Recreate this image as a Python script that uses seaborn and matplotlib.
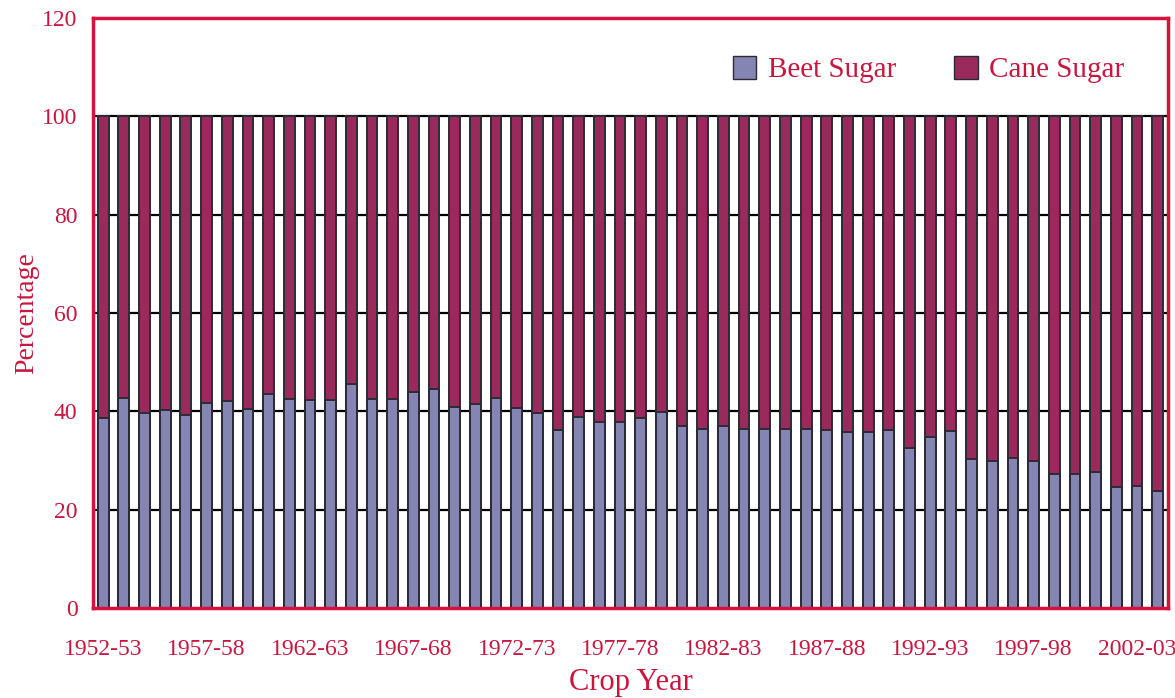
import matplotlib
matplotlib.use("Agg")
import matplotlib.pyplot as plt
import matplotlib.patches as mpatches
import seaborn as sns
import pandas as pd

# Crop years 1952-53 .. 2003-04
crop_years = [f"{y}-{str(y + 1)[-2:]}" for y in range(1952, 2004)]

# Beet sugar share of total (percent)
beet_share = [
    38.7, 42.7, 39.6, 40.3, 39.2, 41.6, 42.2, 40.5, 43.6, 42.6,
    42.3, 42.3, 45.6, 42.6, 42.6, 43.9, 44.5, 40.8, 41.4, 42.7,
    40.6, 39.7, 36.2, 38.8, 37.8, 37.8, 38.7, 39.8, 37.0, 36.5,
    37.0, 36.5, 36.5, 36.5, 36.5, 36.3, 35.8, 35.8, 36.3, 32.5,
    34.7, 36.1, 30.4, 29.9, 30.6, 30.0, 27.3, 27.3, 27.6, 24.6,
    24.9, 23.7,
]
total_share = [100] * len(crop_years)

BEET = "#8585b3"
CANE = "#9a2a5c"
RED = "#d8103e"
TXT = "#c8163f"
EDGE = "#2b2b35"

df = pd.DataFrame({"year": crop_years, "beet": beet_share, "total": total_share})

sns.set_style("white")
plt.rcParams["font.family"] = ["Liberation Serif", "DejaVu Serif"]

fig = plt.figure(figsize=(11.75, 6.98), dpi=100)
ax = fig.add_axes([0.079, 0.129, 0.915, 0.845])

# cane sugar = full bar (stacked on top of beet)
sns.barplot(data=df, x="year", y="total", color=CANE, width=0.52,
            edgecolor=EDGE, linewidth=1.4, saturation=1, ax=ax)
sns.barplot(data=df, x="year", y="beet", color=BEET, width=0.52,
            edgecolor=EDGE, linewidth=1.4, saturation=1, ax=ax)

ax.set_ylim(0, 120)
ax.set_xlim(-0.5, len(crop_years) - 0.5)
ax.set_yticks(range(0, 121, 20))
ax.set_axisbelow(True)
for yv in range(20, 101, 20):
    ax.axhline(yv, color="black", lw=1.6, zorder=0)

# labels every 5 years, tick marks on category boundaries
label_pos = list(range(0, len(crop_years), 5))
ax.set_xticks(label_pos)
ax.set_xticklabels([crop_years[i] for i in label_pos])
ax.set_xticks([p - 0.5 for p in label_pos], minor=True)
ax.tick_params(axis="x", which="major", length=0, pad=22, labelsize=17, labelcolor=TXT)
ax.tick_params(axis="x", which="minor", length=6, width=2, color=RED, direction="out")
ax.tick_params(axis="y", length=6, width=2, color=RED, direction="inout",
               labelsize=17, labelcolor=TXT, pad=8)

ax.set_xlabel("Crop Year", fontsize=22, color=TXT, labelpad=6)
ax.set_ylabel("Percentage", fontsize=20, color=TXT, labelpad=2)

for s in ax.spines.values():
    s.set_visible(True)
    s.set_color(RED)
    s.set_linewidth(2.5)

handles = [
    mpatches.Patch(facecolor=BEET, edgecolor=EDGE, label="Beet Sugar"),
    mpatches.Patch(facecolor=CANE, edgecolor=EDGE, label="Cane Sugar"),
]
leg = ax.legend(handles=handles, loc="upper right", ncol=2, frameon=False,
                fontsize=21, handlelength=0.8, handleheight=0.8,
                handletextpad=0.4, columnspacing=2.0,
                bbox_to_anchor=(0.984, 0.98))
for t in leg.get_texts():
    t.set_color(TXT)

fig.savefig("out.png", dpi=100, facecolor="white")
